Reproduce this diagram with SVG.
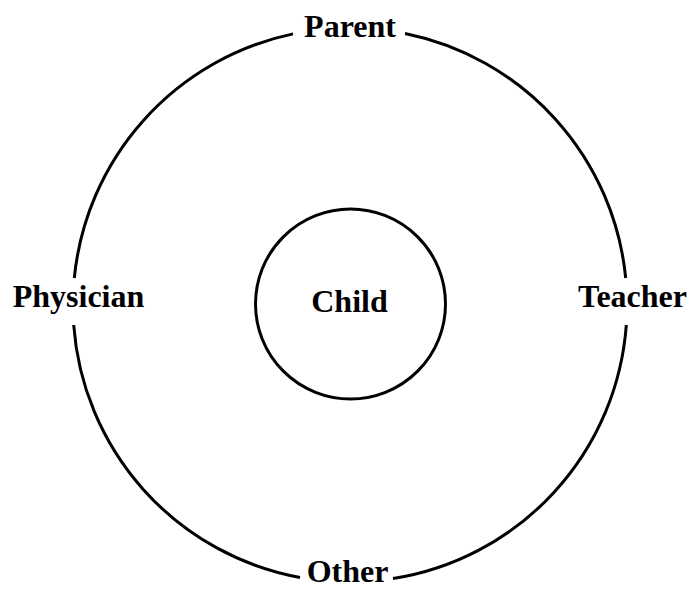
<svg xmlns="http://www.w3.org/2000/svg" width="693" height="593" viewBox="0 0 693 593">
<style>
.c{fill:none;stroke:#000;stroke-width:3}
.t{font-family:"Liberation Serif","Times New Roman",serif;font-weight:bold;font-size:32px;fill:#000;text-anchor:middle}
</style>
<rect width="693" height="593" fill="#fff"/>
<g id="connectors">
<path class="c" d="M405,33.5 A277,277 0 0 1 625.7,278"/>
<path class="c" d="M626.3,325 A277,277 0 0 1 393,578.6"/>
<path class="c" d="M300,577.5 A277,277 0 0 1 73.7,325"/>
<path class="c" d="M74.3,278 A277,277 0 0 1 293,33.9"/>
</g>
<g id="child">
<circle class="c" cx="350.5" cy="304" r="95"/>
<text class="t" x="349.5" y="312" font-size="31">Child</text>
</g>
<g id="parent"><text class="t" x="350" y="37">Parent</text></g>
<g id="teacher"><text class="t" x="632.5" y="307">Teacher</text></g>
<g id="other"><text class="t" x="347.5" y="582">Other</text></g>
<g id="physician"><text class="t" x="78.5" y="307">Physician</text></g>
</svg>
